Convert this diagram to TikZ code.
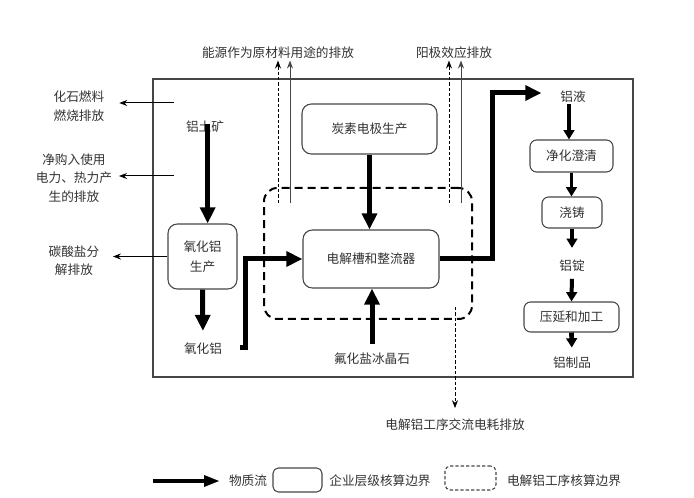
\documentclass[tikz,border=0pt]{standalone}
\usepackage{fontspec}
\newfontfamily\cjk{Noto Sans CJK SC}
\usetikzlibrary{arrows.meta, positioning, calc}
\definecolor{ink}{RGB}{50, 50, 50}
\definecolor{frame_gray}{RGB}{70, 70, 70}

\begin{document}
\begin{tikzpicture}[
    x=0.75pt, y=-0.75pt,
    font=\cjk\fontsize{9.5}{14}\selectfont,
    process/.style={
        rectangle,
        draw=frame_gray,
        line width=0.8pt,
        fill=white,
        text=ink,
        align=center,
        rounded corners=#1
    },
    stuff/.style={
        text=ink,
        inner sep=1pt,
        align=center
    },
    flow/.style={
        -{Triangle[length=12pt, width=11pt]},
        line width=3.75pt,
        #1
    },
    step_flow/.style={
        -{Triangle[length=7pt, width=8pt]},
        line width=2.4pt
    },
    emit/.style={
        -{Stealth[length=6pt, width=4.5pt]},
        line width=0.75pt,
        #1
    },
    emit_dash/.style={
        emit,
        dash pattern=on 2.5pt off 1.5pt
    }
]
\useasboundingbox (0,0) rectangle (694,498);

% boundaries
\node[draw=frame_gray, line width=1pt, minimum width=360pt, minimum height=223.5pt] (company) at (393,228) {};
\node[draw=black, line width=1.5pt, dash pattern=on 6pt off 3.75pt, rounded corners=10pt,
      minimum width=156pt, minimum height=98.25pt] (cellzone) at (368,253.5) {};

% emissions
\node[stuff] (fossil) at (79,106) {化石燃料\\燃烧排放};
\node[stuff] (power) at (74,178) {净购入使用\\电力、热力产\\生的排放};
\node[stuff, font=\cjk\fontsize{9.5}{13.5}\selectfont] (carbonate) at (74,261) {碳酸盐分\\解排放};
\node[stuff] (feedstock) at (278,53) {能源作为原材料用途的排放};
\node[stuff] (anodeeff) at (454,53) {阳极效应排放};
\node[stuff] (acpower) at (455,425) {电解铝工序交流电耗排放};

\coordinate (fossilsrc) at (174,103);
\coordinate (powersrc) at (174,176);
\coordinate (feeddash) at (278,203);
\coordinate (feedline) at (290,203);
\coordinate (anodedash) at (449,203);
\coordinate (anodeline) at (461,203);
\coordinate (acsrc) at (455,307);

\draw[emit, shorten >=10pt] (fossilsrc) -- (fossilsrc -| fossil.east);
\draw[emit, shorten >=4pt] (powersrc) -- (powersrc -| power.east);
\draw[emit_dash] (feeddash) -- (feeddash |- feedstock.south);
\draw[emit=frame_gray] (feedline) -- (feedline |- feedstock.south);
\draw[emit_dash] (anodedash) -- (anodedash |- anodeeff.south);
\draw[emit=frame_gray] (anodeline) -- (anodeline |- anodeeff.south);
\draw[emit_dash, shorten >=7pt] (acsrc) -- (acpower.north);

% alumina line
\node[stuff] (ore) at (205,127) {铝土矿};
\node[process=7pt, minimum width=51.75pt, minimum height=48.75pt,
      font=\cjk\fontsize{9.5}{15}\selectfont] (alumbox) at (202.5,256.5) {氧化铝\\生产};
\node[stuff] (alumina) at (203,349) {氧化铝};

\draw[emit, shorten >=9pt] (alumbox.west) -- (alumbox.west -| carbonate.east);
\draw[flow] ([xshift=2pt, yshift=-3pt]ore.north) -- ([xshift=2pt]ore.north |- alumbox.north);
\draw[flow, shorten >=8pt] (alumbox.south) -- (alumina.north);

% electrolysis
\node[process=7pt, minimum width=101.25pt, minimum height=37.5pt] (anode) at (369.5,129) {炭素电极生产};
\node[process=7pt, minimum width=102pt, minimum height=43.5pt] (cell) at (371,259) {电解槽和整流器};
\node[stuff] (flux) at (372,359) {氟化盐冰晶石};

\coordinate (alumout) at (240,348);
\coordinate (alumup) at (245,348);
\coordinate (riser) at (492,93);

\draw[flow] (alumout) -- (alumup) |- (cell.west);
\draw[flow] (anode.south) -- (anode.south |- cell.north);
\draw[flow, shorten <=6pt] (flux.north) -- (flux.north |- cell.south);

% casting
\node[stuff] (liquid) at (573,97) {铝液};
\node[process=5pt, minimum width=62.25pt, minimum height=24pt] (refine) at (571.5,156) {净化澄清};
\node[process=5pt, minimum width=45pt, minimum height=23.25pt] (cast) at (572,212.5) {浇铸};
\node[stuff] (ingot) at (572,266) {铝锭};
\node[process=5pt, minimum width=71.25pt, minimum height=22.5pt] (rolling) at (571.5,317) {压延和加工};
\node[stuff] (product) at (572,363) {铝制品};

\draw[flow, shorten >=13pt] (cell.east) -| (riser) -- (riser -| liquid.west);
\draw[step_flow] ([xshift=-3pt]liquid.south) -- ([xshift=-3pt]liquid.south |- refine.north);
\draw[step_flow] (refine.south) -- (refine.south |- cast.north);
\draw[step_flow, shorten >=8pt] (cast.south) -- (ingot.north);
\draw[step_flow, line width=3pt, shorten <=4pt] (ingot.south) -- (rolling.north);
\draw[step_flow, line width=3.5pt, shorten >=6pt] (rolling.south) -- (product.north);

% legend
\coordinate (legstart) at (153,481);
\coordinate (legend) at (220,481);
\draw[-{Triangle[length=12pt, width=8pt]}, line width=3pt] (legstart) -- (legend);
\node[stuff] (legflow) at (248,481) {物质流};
\node[process=4pt, minimum width=36.75pt, minimum height=18pt] (legcompany) at (297.5,480) {};
\node[stuff] (legcompanytext) at (380,481) {企业层级核算边界};
\node[draw=frame_gray, line width=0.8pt, dash pattern=on 2.5pt off 1.5pt, rounded corners=4pt,
      minimum width=38.25pt, minimum height=18pt] (legzone) at (470.5,478) {};
\node[stuff] (legzonetext) at (564,481) {电解铝工序核算边界};

\end{tikzpicture}
\end{document}
